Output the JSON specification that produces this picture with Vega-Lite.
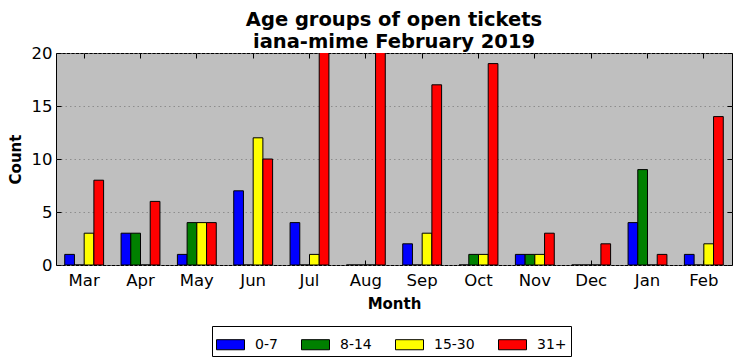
{
  "$schema": "https://vega.github.io/schema/vega-lite/v6.json",
  "autosize": "none",
  "width": 676,
  "height": 212,
  "padding": {"left": 56, "top": 53, "right": 10, "bottom": 96},
  "background": "white",
  "title": {
    "text": ["Age groups of open tickets", "iana-mime February 2019"],
    "font": "DejaVu Sans",
    "fontSize": 19.5,
    "fontWeight": "bold",
    "lineHeight": 22,
    "anchor": "middle",
    "offset": -10,
    "color": "black"
  },
  "data": {
    "values": [
      {"month": "Mar", "group": "0-7", "count": 1},
      {"month": "Mar", "group": "8-14", "count": 0},
      {"month": "Mar", "group": "15-30", "count": 3},
      {"month": "Mar", "group": "31+", "count": 8},
      {"month": "Apr", "group": "0-7", "count": 3},
      {"month": "Apr", "group": "8-14", "count": 3},
      {"month": "Apr", "group": "15-30", "count": 0},
      {"month": "Apr", "group": "31+", "count": 6},
      {"month": "May", "group": "0-7", "count": 1},
      {"month": "May", "group": "8-14", "count": 4},
      {"month": "May", "group": "15-30", "count": 4},
      {"month": "May", "group": "31+", "count": 4},
      {"month": "Jun", "group": "0-7", "count": 7},
      {"month": "Jun", "group": "8-14", "count": 0},
      {"month": "Jun", "group": "15-30", "count": 12},
      {"month": "Jun", "group": "31+", "count": 10},
      {"month": "Jul", "group": "0-7", "count": 4},
      {"month": "Jul", "group": "8-14", "count": 0},
      {"month": "Jul", "group": "15-30", "count": 1},
      {"month": "Jul", "group": "31+", "count": 21},
      {"month": "Aug", "group": "0-7", "count": 0},
      {"month": "Aug", "group": "8-14", "count": 0},
      {"month": "Aug", "group": "15-30", "count": 0},
      {"month": "Aug", "group": "31+", "count": 21},
      {"month": "Sep", "group": "0-7", "count": 2},
      {"month": "Sep", "group": "8-14", "count": 0},
      {"month": "Sep", "group": "15-30", "count": 3},
      {"month": "Sep", "group": "31+", "count": 17},
      {"month": "Oct", "group": "0-7", "count": 0},
      {"month": "Oct", "group": "8-14", "count": 1},
      {"month": "Oct", "group": "15-30", "count": 1},
      {"month": "Oct", "group": "31+", "count": 19},
      {"month": "Nov", "group": "0-7", "count": 1},
      {"month": "Nov", "group": "8-14", "count": 1},
      {"month": "Nov", "group": "15-30", "count": 1},
      {"month": "Nov", "group": "31+", "count": 3},
      {"month": "Dec", "group": "0-7", "count": 0},
      {"month": "Dec", "group": "8-14", "count": 0},
      {"month": "Dec", "group": "15-30", "count": 0},
      {"month": "Dec", "group": "31+", "count": 2},
      {"month": "Jan", "group": "0-7", "count": 4},
      {"month": "Jan", "group": "8-14", "count": 9},
      {"month": "Jan", "group": "15-30", "count": 0},
      {"month": "Jan", "group": "31+", "count": 1},
      {"month": "Feb", "group": "0-7", "count": 1},
      {"month": "Feb", "group": "8-14", "count": 0},
      {"month": "Feb", "group": "15-30", "count": 2},
      {"month": "Feb", "group": "31+", "count": 14}
    ]
  },
  "encoding": {
    "x": {
      "field": "month", "type": "nominal",
      "sort": ["Mar","Apr","May","Jun","Jul","Aug","Sep","Oct","Nov","Dec","Jan","Feb"],
      "scale": {"paddingInner": 0.31, "paddingOuter": 0.155}
    },
    "xOffset": {
      "field": "group", "type": "nominal",
      "sort": ["0-7","8-14","15-30","31+"],
      "scale": {"paddingInner": 0, "paddingOuter": 0}
    },
    "y": {
      "field": "count", "type": "quantitative",
      "scale": {"domain": [0, 20], "nice": false}
    }
  },
  "layer": [
    {
      "mark": {"type": "bar", "stroke": "black", "strokeWidth": 1, "clip": true},
      "encoding": {
        "x": {
          "field": "month", "type": "nominal",
          "sort": ["Mar","Apr","May","Jun","Jul","Aug","Sep","Oct","Nov","Dec","Jan","Feb"],
          "axis": {
            "title": "Month", "titleFontWeight": "bold", "titleFontSize": 15, "titleFont": "DejaVu Sans",
            "titlePadding": 8,
            "labelAngle": 0, "labelFont": "DejaVu Sans", "labelFontSize": 16.5, "labelColor": "black",
            "tickSize": -5, "tickColor": "black", "labelPadding": 12,
            "domain": false, "grid": false
          }
        },
        "y": {
          "field": "count", "type": "quantitative",
          "axis": {
            "title": "Count", "titleFontWeight": "bold", "titleFontSize": 15, "titleFont": "DejaVu Sans",
            "titlePadding": 8,
            "values": [0,5,10,15,20],
            "labelFont": "DejaVu Sans", "labelFontSize": 16.5, "labelColor": "black",
            "tickSize": -5, "tickColor": "black", "labelPadding": 9,
            "domain": false,
            "grid": true, "gridColor": "#808080", "gridDash": [1.5, 3], "gridWidth": 0.8
          }
        },
        "color": {
          "field": "group", "type": "nominal",
          "sort": ["0-7","8-14","15-30","31+"],
          "scale": {"domain": ["0-7","8-14","15-30","31+"], "range": ["#0000ff","#008000","#ffff00","#ff0000"]},
          "legend": {
            "title": null,
            "orient": "none",
            "legendX": 156,
            "legendY": 273,
            "direction": "horizontal",
            "strokeColor": "black",
            "padding": 4,
            "fillColor": "white",
            "symbolType": "M-1,-0.36H1V0.36H-1Z",
            "symbolSize": 784,
            "symbolStrokeColor": "black",
            "symbolStrokeWidth": 1,
            "symbolOpacity": 1,
            "labelFont": "DejaVu Sans",
            "labelFontSize": 14,
            "labelColor": "black",
            "labelOffset": 10,
            "columnPadding": 21
          }
        }
      }
    },
    {
      "mark": {"type": "bar", "opacity": 0},
      "encoding": {
        "x": {
          "field": "month", "type": "nominal",
          "sort": ["Mar","Apr","May","Jun","Jul","Aug","Sep","Oct","Nov","Dec","Jan","Feb"],
          "axis": {"orient": "top", "labels": false, "title": null, "tickSize": -5, "tickColor": "black", "domain": false, "grid": false}
        },
        "y": {
          "field": "count", "type": "quantitative",
          "axis": {"orient": "right", "labels": false, "title": null, "values": [0,5,10,15,20], "tickSize": -5, "tickColor": "black", "domain": false, "grid": false}
        }
      }
    }
  ],
  "resolve": {"axis": {"x": "independent", "y": "independent"}},
  "config": {
    "view": {"fill": "#bfbfbf", "stroke": "black", "strokeWidth": 1},
    "axis": {"gridOpacity": 1}
  }
}
